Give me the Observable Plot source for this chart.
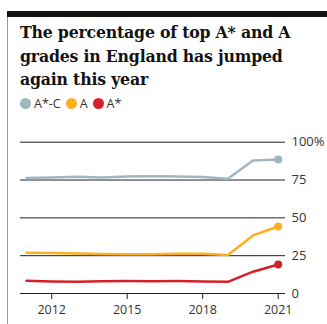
<!DOCTYPE html>
<html><head><meta charset="utf-8">
<script src="https://cdn.jsdelivr.net/npm/d3@7"></script>
<script src="https://cdn.jsdelivr.net/npm/@observablehq/plot@0.6"></script>
<style>
html,body{margin:0;padding:0;background:#fff;width:327px;height:324px;overflow:hidden;}
#frame{position:absolute;left:7px;top:11px;width:320px;height:313px;border-left:1px solid #999;}
#bar{position:absolute;left:7px;top:11px;width:320px;height:6px;background:#121212;}
#title{position:absolute;left:20px;top:21px;width:300px;font-family:"DejaVu Serif",serif;font-stretch:condensed;font-weight:bold;font-size:17.5px;line-height:23.5px;color:#121212;letter-spacing:-0.2px;}
#legend{position:absolute;left:20px;top:95px;font-family:"Open Sans","Noto Sans",sans-serif;font-size:12.5px;color:#333;display:flex;align-items:center;}
#legend span.dot{display:inline-block;width:11px;height:11px;border-radius:50%;margin-right:3px;}
#legend span.lab{margin-right:5px;}
#chart{position:absolute;left:0;top:115px;}
</style></head>
<body>
<div id="frame"></div>
<div id="bar"></div>
<div id="title">The percentage of top A* and A grades in England has jumped again this year</div>
<div id="legend"></div>
<div id="chart"></div>
<script>
const years = [2011, 2012, 2013, 2014, 2015, 2016, 2017, 2018, 2019, 2020, 2021];
const seriesNames = ["A*-C", "A", "A*"];
const seriesColors = ["#a1b6bf", "#fdb01b", "#d4202a"];
const aStarToC = [76.3, 76.7, 77.1, 76.6, 77.3, 77.5, 77.4, 77.0, 75.9, 87.9, 88.5];
const aStarToA = [27.0, 26.7, 26.4, 26.1, 25.9, 25.9, 26.2, 26.3, 25.4, 38.4, 44.3];
const aStar = [8.4, 8.0, 7.7, 8.1, 8.2, 8.1, 8.2, 8.0, 7.7, 14.4, 19.2];
const yTicks = [0, 25, 50, 75, 100];
const xTicks = [2012, 2015, 2018, 2021];

const seriesValues = [aStarToC, aStarToA, aStar];
const data = [];
seriesNames.forEach((s, i) => years.forEach((y, j) => data.push({series: s, year: y, value: seriesValues[i][j]})));
const last = data.filter(d => d.year === years[years.length - 1]);

const leg = document.getElementById("legend");
seriesNames.forEach((s, i) => {
  const dot = document.createElement("span"); dot.className = "dot"; dot.style.background = seriesColors[i];
  const lab = document.createElement("span"); lab.className = "lab"; lab.textContent = s;
  leg.appendChild(dot); leg.appendChild(lab);
});

const chart = Plot.plot({
  width: 327,
  height: 209,
  marginLeft: 20,
  marginRight: 42,
  marginTop: 26.7,
  marginBottom: 31,
  style: {fontFamily: "'Open Sans','Noto Sans',sans-serif", fontSize: "12px", color: "#333", background: "transparent"},
  x: {domain: [2010.76, 2021.29]},
  y: {domain: [0, 100]},
  color: {domain: seriesNames, range: seriesColors},
  marks: [
    Plot.ruleY(yTicks, {stroke: "#222", strokeWidth: 1}),
    Plot.axisY(yTicks, {anchor: "right", tickSize: 0, tickPadding: 6, textAnchor: "start", fill: "#333", fontSize: 13, tickFormat: d => d === 100 ? "100%" : String(d), label: null}),
    Plot.axisX(xTicks, {anchor: "bottom", tickSize: 6, tickPadding: 6, stroke: "#222", fill: "#333", fontSize: 12.5, tickFormat: d => String(d), label: null}),
    Plot.line(data, {x: "year", y: "value", z: "series", stroke: "series", strokeWidth: 2.5, curve: "linear"}),
    Plot.dot(last, {x: "year", y: "value", fill: "series", r: 4})
  ]
});
document.getElementById("chart").appendChild(chart);
</script>
</body></html>
